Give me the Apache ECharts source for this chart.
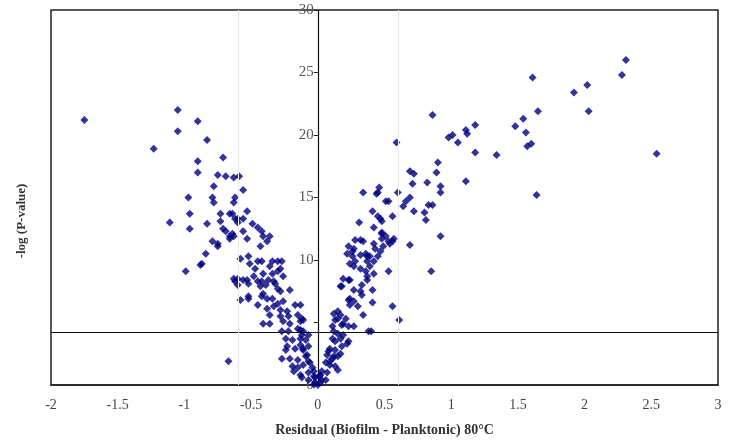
<!DOCTYPE html>
<html><head><meta charset="utf-8">
<script src="https://cdn.jsdelivr.net/npm/echarts@6/dist/echarts.min.js"></script>
<style>html,body{margin:0;padding:0;background:#fff}#c{width:733px;height:442px}</style>
</head><body><div id="c"></div>
<script>
// Residual (x), -log(P) (y) — genes with negative residual
const leftPoints = [
[-1.75,21.2],[-1.23,18.9],[-1.05,22.0],[-1.05,20.3],[-0.90,21.1],[-0.83,19.6],[-0.71,18.2],[-0.90,17.9],[-0.90,17.0],
[-0.75,16.8],[-0.69,16.7],[-0.63,16.6],[-0.59,16.7],[-0.78,15.9],[-0.56,15.6],[-0.97,15.0],[-0.79,15.0],[-0.78,14.6],
[-0.62,15.0],[-0.63,14.6],[-1.11,13.0],[-0.96,13.7],[-0.96,12.5],[-0.83,12.9],[-0.73,13.7],[-0.73,13.1],[-0.66,13.7],
[-0.60,13.3],[-0.71,12.5],[-0.66,11.9],[-0.64,12.1],[-0.79,11.5],[-0.75,11.1],[-0.84,10.5],[-0.88,9.6],[-0.99,9.1],
[-0.67,1.9],[-0.64,13.7],[-0.62,13.3],[-0.60,13.0],[-0.56,13.3],[-0.53,13.9],[-0.69,12.3],[-0.66,11.7],[-0.63,11.9],
[-0.75,11.3],[-0.56,12.3],[-0.53,11.7],[-0.49,12.9],[-0.45,12.6],[-0.42,12.3],[-0.41,11.9],[-0.38,11.5],[-0.36,11.9],
[-0.43,11.1],[-0.87,9.7],[-0.58,10.1],[-0.52,10.3],[-0.51,9.7],[-0.45,9.9],[-0.42,9.9],[-0.34,9.9],[-0.30,9.9],
[-0.27,9.9],[-0.36,9.5],[-0.28,9.3],[-0.47,9.3],[-0.41,8.9],[-0.34,8.9],[-0.30,9.1],[-0.26,8.7],[-0.60,8.5],
[-0.53,8.4],[-0.48,8.7],[-0.45,8.3],[-0.39,8.0],[-0.32,8.1],[-0.30,7.7],[-0.21,7.6],[-0.28,7.5],[-0.52,7.1],
[-0.42,7.1],[-0.63,8.5],[-0.60,8.0],[-0.58,6.8],[-0.52,6.9],[-0.45,6.4],[-0.41,4.9],[-0.36,4.9],[-0.62,8.3],
[-0.56,8.4],[-0.52,8.1],[-0.43,7.9],[-0.42,8.3],[-0.37,8.4],[-0.33,8.3],[-0.41,7.3],[-0.38,6.9],[-0.34,6.9],
[-0.30,6.5],[-0.26,6.7],[-0.38,6.1],[-0.33,6.3],[-0.28,6.0],[-0.23,5.9],[-0.17,6.4],[-0.36,5.6],[-0.28,5.5],
[-0.22,5.5],[-0.15,5.6],[-0.26,5.1],[-0.21,4.9],[-0.13,5.1],[-0.27,4.3],[-0.22,4.3],[-0.15,4.5],[-0.11,4.3],
[-0.24,3.7],[-0.19,3.6],[-0.13,3.7],[-0.07,4.0],[-0.23,3.1],[-0.17,2.9],[-0.11,2.8],[-0.07,3.1],[-0.24,2.8],
[-0.27,2.1],[-0.21,2.1],[-0.15,2.0],[-0.09,2.3],[-0.19,1.5],[-0.15,1.4],[-0.11,1.6],[-0.06,1.8],[-0.18,1.1],
[-0.13,0.8],[-0.07,1.0],[-0.03,1.1],[-0.12,0.6],[-0.07,0.4],[-0.02,0.6],[-0.03,0.05],[-0.13,6.4],[-0.12,5.3],
[-0.11,5.2],[-0.13,4.4],[-0.12,4.0],[-0.09,3.6],[-0.13,3.2],[-0.11,2.9],[-0.08,2.4],[-0.07,1.9],[-0.04,1.4],
[-0.03,0.7],[-0.02,0.2],[0.00,0.0]
];
// genes with positive residual
const rightPoints = [
[2.31,26.0],[2.28,24.8],[1.61,24.6],[2.02,24.0],[1.92,23.4],[2.03,21.9],[1.65,21.9],[2.54,18.5],[1.64,15.2],
[0.86,21.6],[0.59,19.4],[1.18,20.8],[1.11,20.4],[1.12,20.1],[1.05,19.4],[0.98,19.8],[1.01,20.0],[1.18,18.6],
[1.34,18.4],[1.48,20.7],[1.54,21.3],[1.56,20.2],[1.57,19.1],[1.60,19.3],[0.90,17.8],[0.89,17.0],[0.69,17.1],
[0.72,16.9],[0.71,16.1],[0.82,16.2],[0.92,15.9],[0.92,15.4],[1.11,16.3],[0.60,15.4],[0.45,15.4],[0.46,15.8],
[0.34,15.4],[0.51,14.7],[0.53,14.7],[0.66,14.7],[0.64,14.3],[0.69,15.0],[0.72,13.9],[0.83,14.4],[0.86,14.4],
[0.80,13.8],[0.41,13.9],[0.45,13.5],[0.56,13.5],[0.81,13.2],[0.47,13.3],[0.48,13.1],[0.42,12.6],[0.48,12.2],
[0.51,11.9],[0.56,11.5],[0.53,11.5],[0.34,11.5],[0.92,11.9],[0.85,9.1],[0.69,11.2],[0.53,9.1],[0.56,6.3],
[0.61,5.2],[0.41,6.6],[0.41,7.6],[0.34,5.6],[0.38,4.3],[0.40,4.3],[0.31,13.0],[0.32,11.6],[0.28,11.6],
[0.57,11.7],[0.54,11.3],[0.49,11.1],[0.42,11.3],[0.43,10.9],[0.23,11.1],[0.26,10.7],[0.32,10.4],[0.36,10.5],
[0.39,10.3],[0.48,12.1],[0.48,11.7],[0.44,15.3],[0.37,10.3],[0.42,9.9],[0.45,10.3],[0.36,9.1],[0.37,8.7],
[0.42,8.9],[0.33,8.0],[0.33,7.2],[0.27,10.9],[0.47,10.7],[0.24,9.7],[0.28,9.9],[0.37,9.9],[0.39,9.5],
[0.19,8.5],[0.24,8.4],[0.37,8.4],[0.18,7.9],[0.27,7.6],[0.32,7.5],[0.24,6.9],[0.27,6.7],[0.30,6.3],
[0.15,5.9],[0.17,5.6],[0.21,5.3],[0.13,5.2],[0.19,4.9],[0.23,4.7],[0.27,4.7],[0.11,4.7],[0.12,4.3],
[0.15,4.1],[0.19,4.0],[0.11,3.7],[0.13,3.5],[0.17,3.7],[0.23,3.5],[0.09,2.9],[0.13,2.8],[0.18,3.1],
[0.07,2.4],[0.11,2.1],[0.15,2.3],[0.17,2.5],[0.06,1.8],[0.09,1.6],[0.13,1.5],[0.15,1.2],[0.03,1.1],
[0.07,1.0],[0.01,0.7],[0.03,0.4],[0.02,0.2],[0.23,6.8],[0.24,6.4],[0.17,7.9],[0.23,8.4],[0.27,9.5],
[0.32,9.3],[0.22,10.5],[0.26,10.3],[0.22,3.3],[0.08,2.7],[0.12,2.3],[0.09,1.9],[0.02,0.8],[0.06,0.4],
[0.18,4.8],[0.15,5.3],[0.12,5.7]
];
const xTicks = [-2,-1.5,-1,-0.5,0,0.5,1,1.5,2,2.5,3];
const yTicks = [0,5,10,15,20,25,30];
const hiddenYTick = 5;
const significanceLine = 4.25;
const foldLines = [-0.6, 0.6];
const xTitle = 'Residual (Biofilm - Planktonic) 80°C';
const yTitle = '-log (P-value)';

const gridLeft = 51, gridRight = 15;
const plotW = 733 - gridLeft - gridRight;
const xMin = xTicks[0], xMax = xTicks[xTicks.length-1];
// shift the y axis onto x = 0
const yAxisOffset = -plotW * (0 - xMin) / (xMax - xMin);

const chart = echarts.init(document.getElementById('c'), null, {renderer:'canvas'});
const serif = 'Liberation Serif';
chart.setOption({
  animation:false,
  grid:{left:gridLeft,right:gridRight,top:10,bottom:55,show:true,borderColor:'#222',borderWidth:1.5,backgroundColor:'#fff'},
  xAxis:{type:'value',min:xMin,max:xMax,interval:0.5,
    axisLine:{onZero:false,lineStyle:{color:'#222',width:1.5}},axisTick:{show:false},splitLine:{show:false},
    axisLabel:{color:'#444',fontFamily:serif,fontSize:14,margin:13,formatter:v=>String(v)},
    name:xTitle,nameLocation:'middle',nameGap:38,
    nameTextStyle:{fontFamily:serif,fontWeight:'bold',fontSize:14,color:'#333'}},
  yAxis:{type:'value',position:'left',offset:yAxisOffset,min:yTicks[0],max:yTicks[yTicks.length-1],interval:5,
    axisLine:{onZero:false,lineStyle:{color:'#111',width:1.2}},axisTick:{show:true,inside:false,length:4,lineStyle:{color:'#222'}},
    splitLine:{show:false},
    axisLabel:{color:'#555',fontFamily:serif,fontSize:15,margin:4,formatter:v=>v===hiddenYTick?'':String(v)}},
  graphic:[{type:'text',left:15,top:'center',rotation:Math.PI/2,
    style:{text:yTitle,font:'bold 13px "Liberation Serif"',fill:'#333'}}],
  series:[
    {type:'scatter',symbol:'diamond',symbolSize:8,itemStyle:{color:'#000080'},data:leftPoints,z:3,
     markLine:{silent:true,symbol:'none',label:{show:false},animation:false,
       data:[{yAxis:significanceLine,lineStyle:{color:'#111',width:1.2,type:'solid'}}].concat(
         foldLines.map(v=>({xAxis:v,lineStyle:{color:'#ececec',width:1,type:'solid'}})))}},
    {type:'scatter',symbol:'diamond',symbolSize:8,itemStyle:{color:'#000080'},data:rightPoints,z:3}
  ]
});
</script></body></html>
